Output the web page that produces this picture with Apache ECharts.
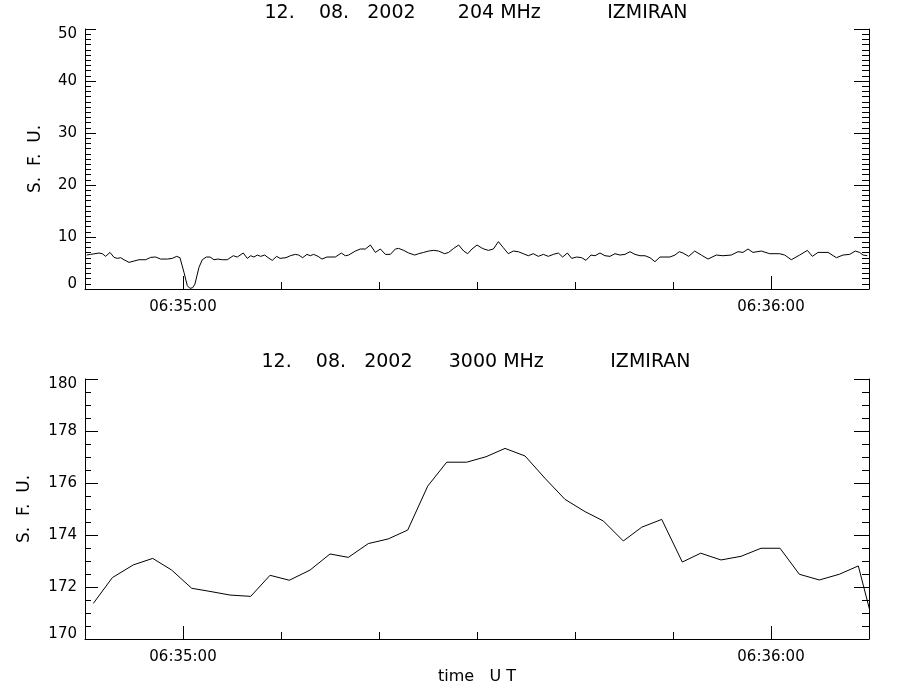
<!DOCTYPE html>
<html>
<head>
<meta charset="utf-8">
<script src="https://cdn.jsdelivr.net/npm/echarts@6/dist/echarts.min.js"></script>
<style>
html,body{margin:0;padding:0;background:#fff;}
#chart{width:900px;height:700px;}
</style>
</head>
<body>
<div id="chart"></div>
<script>
// seconds after 06:34:50 UT
const topTimes = [0.17,0.58,1.43,1.77,2.11,2.55,2.96,3.30,3.64,3.98,4.49,5.00,5.51,6.19,6.70,7.21,7.72,8.40,8.91,9.36,9.69,10.10,10.44,10.71,10.99,11.22,11.63,11.97,12.38,12.76,13.16,13.57,14.01,14.52,15.13,15.54,16.15,16.56,16.91,17.24,17.59,17.93,18.34,18.78,19.11,19.56,19.90,
20.51,20.95,21.46,21.80,22.21,22.65,22.99,23.33,23.78,24.18,24.69,25.54,26.16,26.56,26.91,27.59,28.10,28.61,29.12,29.63,30.14,30.65,31.16,31.67,32.00,32.52,33.03,33.64,34.05,34.56,35.07,35.58,36.09,36.70,37.11,37.62,38.13,38.64,39.05,39.49,40.00,40.44,
40.71,41.16,41.67,42.18,42.69,43.19,43.71,44.22,44.72,45.24,45.74,46.26,46.77,47.28,47.79,48.30,48.74,49.22,49.66,50.17,50.68,51.12,51.63,52.04,52.55,53.06,53.57,54.08,54.59,55.10,55.61,56.12,56.63,57.14,57.65,58.16,58.67,59.69,60.20,60.64,
61.02,61.60,62.21,62.89,63.57,64.42,65.10,65.95,66.63,67.14,67.65,68.16,69.01,69.86,70.88,71.40,72.07,72.93,73.71,74.22,74.80,75.82,76.67,77.35,78.03,78.60,79.04,79.39,79.83];
const topValues = [6.53,6.66,6.92,6.79,6.28,7.04,6.08,5.89,6.02,5.63,5.12,5.38,5.63,5.63,6.08,6.15,5.76,5.76,5.89,6.28,6.02,3.20,0.63,0.12,0.25,0.96,4.16,5.63,6.15,6.15,5.63,5.76,5.63,5.63,6.40,6.15,6.92,5.89,6.40,6.15,6.53,6.28,6.53,5.89,5.51,6.28,5.89,
6.02,6.40,6.66,6.53,6.02,6.66,6.40,6.66,6.28,5.76,6.15,6.15,6.92,6.40,6.53,7.30,7.69,7.69,8.46,7.04,7.69,6.66,6.66,7.69,7.81,7.43,6.92,6.53,6.79,7.04,7.30,7.43,7.30,6.79,7.04,7.81,8.46,7.30,6.79,7.69,8.46,7.94,
7.69,7.43,7.69,9.10,7.94,6.79,7.30,7.17,6.79,6.40,6.79,6.28,6.66,6.28,6.66,6.92,6.15,6.92,5.89,6.15,6.02,5.51,6.53,6.40,6.92,6.40,6.28,6.79,6.53,6.66,7.17,6.66,6.40,6.40,6.02,5.25,6.15,6.15,6.53,7.17,
6.92,6.28,7.30,6.53,5.76,6.53,6.40,6.53,7.17,7.04,7.69,7.04,7.30,6.79,6.79,6.53,5.63,6.53,7.43,6.28,7.04,7.04,6.02,6.53,6.66,7.30,7.04,6.53,6.40];

const bottomTimes = [0.85,2.79,4.93,6.91,8.85,10.89,12.76,14.80,16.91,18.88,20.85,22.96,25.00,26.87,28.91,30.95,32.93,34.97,36.91,38.95,
40.92,42.86,44.90,46.94,48.98,51.02,52.89,54.93,56.81,58.85,60.95,62.83,64.90,66.94,68.98,70.92,72.89,74.93,76.97,78.91,80.90];
const bottomValues = [171.37,172.36,172.85,173.10,172.65,171.95,171.83,171.69,171.64,172.45,172.26,172.65,173.27,173.14,173.67,173.85,174.19,175.88,176.80,176.80,
177.01,177.33,177.04,176.18,175.37,174.90,174.54,173.77,174.30,174.60,172.96,173.30,173.04,173.18,173.49,173.49,172.49,172.27,172.49,172.81,169.90];

const xTickValues = [10, 70];
const xTickLabels = ['06:35:00', '06:36:00'];
const titleTexts = ['12.    08.   2002       204 MHz           IZMIRAN', '12.    08.   2002      3000 MHz           IZMIRAN'];
const yRanges = [[0, 50, 10, 10], [170, 180, 2, 4]];

const FONT = 'DejaVu Sans';
const BLACK = '#000';

function zip(a, b) { return a.map((v, i) => [v, b[i]]); }

function xMain(gi) {
  return {
    gridIndex: gi, type: 'value', min: 0, max: 80, interval: 10,
    axisLine: { show: true, onZero: false, lineStyle: { color: BLACK, width: 1 } },
    axisTick: { show: true, inside: true, length: 7, lineStyle: { color: BLACK, width: 1 } },
    axisLabel: { show: false }, splitLine: { show: false }
  };
}
function xLabels(gi, withName) {
  const a = {
    gridIndex: gi, type: 'value', min: 0, max: 80, position: 'bottom',
    axisLine: { show: false, onZero: false },
    axisTick: { show: true, inside: true, length: 13, customValues: xTickValues, lineStyle: { color: BLACK, width: 1 } },
    axisLabel: { show: true, customValues: xTickValues, margin: 11, color: BLACK, fontFamily: FONT, fontSize: 15,
      formatter: v => xTickLabels[xTickValues.indexOf(v)] || '' },
    splitLine: { show: false }
  };
  if (withName) {
    a.name = 'time   U T'; a.nameLocation = 'middle'; a.nameGap = 30;
    a.nameTextStyle = { color: BLACK, fontFamily: FONT, fontSize: 16 };
  }
  return a;
}
function yLeft(gi, r, majorLen, nameGap) {
  const [mn, mx, iv, sn] = r;
  return {
    gridIndex: gi, type: 'value', min: mn, max: mx, interval: iv, position: 'left',
    name: 'S.  F.  U.', nameLocation: 'middle', nameGap: nameGap,
    nameTextStyle: { color: BLACK, fontFamily: FONT, fontSize: 17 },
    axisLine: { show: true, onZero: false, lineStyle: { color: BLACK, width: 1 } },
    axisTick: { show: true, inside: true, length: majorLen, lineStyle: { color: BLACK, width: 1 } },
    minorTick: { show: true, splitNumber: sn, length: 6, lineStyle: { color: BLACK, width: 1 } },
    axisLabel: { show: true, margin: 8, color: BLACK, fontFamily: FONT, fontSize: 15,
      formatter: v => v === mx ? '{t|' + v + '}' : (v === mn ? '{b|' + v + '}' : String(v)),
      rich: {
        t: { padding: [10, 0, 0, 0], color: BLACK, fontFamily: FONT, fontSize: 15 },
        b: { padding: [0, 0, 10, 0], color: BLACK, fontFamily: FONT, fontSize: 15 }
      } },
    splitLine: { show: false }, minorSplitLine: { show: false }
  };
}
function yRight(gi, r) {
  const [mn, mx, iv, sn] = r;
  return {
    gridIndex: gi, type: 'value', min: mn, max: mx, interval: iv, position: 'right',
    axisLine: { show: true, onZero: false, lineStyle: { color: BLACK, width: 1 } },
    axisTick: { show: true, inside: true, length: 15, lineStyle: { color: BLACK, width: 1 } },
    minorTick: { show: true, splitNumber: sn, length: 7, lineStyle: { color: BLACK, width: 1 } },
    axisLabel: { show: false }, splitLine: { show: false }, minorSplitLine: { show: false }
  };
}
function lineSeries(xi, yi, data) {
  return {
    type: 'line', xAxisIndex: xi, yAxisIndex: yi, data: data, showSymbol: false, symbol: 'none',
    clip: true, lineStyle: { color: BLACK, width: 1 }, itemStyle: { color: BLACK }, animation: false, silent: true
  };
}

const chart = echarts.init(document.getElementById('chart'), null, { renderer: 'canvas' });
chart.setOption({
  backgroundColor: '#fff',
  animation: false,
  title: [
    { text: titleTexts[0], left: 476, top: 4, textAlign: 'center', padding: 0,
      textStyle: { color: BLACK, fontFamily: FONT, fontSize: 19, fontWeight: 'normal' } },
    { text: titleTexts[1], left: 476, top: 353, textAlign: 'center', padding: 0,
      textStyle: { color: BLACK, fontFamily: FONT, fontSize: 19, fontWeight: 'normal' } }
  ],
  grid: [
    { left: 85, right: 31, top: 29, height: 260, containLabel: false },
    { left: 85, right: 31, top: 379, height: 260, containLabel: false }
  ],
  xAxis: [xMain(0), xLabels(0, false), xMain(1), xLabels(1, true)],
  yAxis: [yLeft(0, yRanges[0], 11, 41), yRight(0, yRanges[0]), yLeft(1, yRanges[1], 13, 52), yRight(1, yRanges[1])],
  series: [
    lineSeries(0, 0, zip(topTimes, topValues)),
    lineSeries(2, 2, zip(bottomTimes, bottomValues))
  ]
});
</script>
</body>
</html>
